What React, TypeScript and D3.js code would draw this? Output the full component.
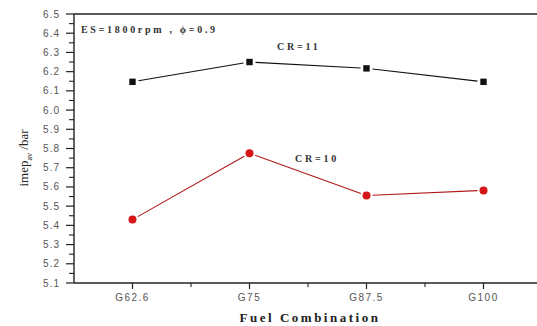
import * as d3 from "d3";

const categories = ["G62.6", "G75", "G87.5", "G100"];
const cr11 = [6.147, 6.25, 6.217, 6.147];
const cr10 = [5.43, 5.775, 5.555, 5.582];
const yTicks = [5.1, 5.2, 5.3, 5.4, 5.5, 5.6, 5.7, 5.8, 5.9, 6.0, 6.1, 6.2, 6.3, 6.4, 6.5];

const W = 537;
const H = 326;
const left = 74;
const top = 14;
const bottom = 283;

const x = d3.scalePoint<string>().domain(categories).range([left, 542]).padding(0.5);
const y = d3.scaleLinear().domain([5.1, 6.5]).range([bottom, top]);

// Origin style: segments stop short of the markers
function gapSegments(vals: number[], gap: number) {
  const segs: { x1: number; y1: number; x2: number; y2: number }[] = [];
  for (let i = 0; i < vals.length - 1; i++) {
    const ax = x(categories[i])!, ay = y(vals[i]);
    const bx = x(categories[i + 1])!, by = y(vals[i + 1]);
    const len = Math.hypot(bx - ax, by - ay);
    const ux = (bx - ax) / len, uy = (by - ay) / len;
    segs.push({ x1: ax + ux * gap, y1: ay + uy * gap, x2: bx - ux * gap, y2: by - uy * gap });
  }
  return segs;
}

export default function App() {
  const step = x.step();
  const minorY = d3.range(5.15, 6.5, 0.1);
  const tickFont = "'Liberation Sans', Arial, sans-serif";
  const serif = "'Liberation Serif', 'Times New Roman', serif";

  return (
    <svg width={W} height={H} style={{ position: "absolute", left: 0, top: 0, background: "#fff" }}>
      {/* frame */}
      <line x1={left} y1={top} x2={W} y2={top} stroke="#222" strokeWidth={1.4} />
      <line x1={left} y1={top} x2={left} y2={bottom} stroke="#222" strokeWidth={1.4} />
      <line x1={left} y1={bottom} x2={W} y2={bottom} stroke="#222" strokeWidth={1.4} />

      {/* y ticks */}
      {yTicks.map((t) => (
        <g key={t}>
          <line x1={left - 8} x2={left} y1={y(t)} y2={y(t)} stroke="#222" strokeWidth={1.2} />
          <text x={left - 14} y={y(t) + 3.5} textAnchor="end" fontSize={10} fill="#555"
            fontFamily={tickFont} letterSpacing={1}>{t.toFixed(1)}</text>
        </g>
      ))}
      {minorY.map((t) => (
        <line key={t} x1={left - 5} x2={left} y1={y(t)} y2={y(t)} stroke="#222" strokeWidth={1.1} />
      ))}

      {/* x ticks */}
      {categories.map((c) => (
        <g key={c}>
          <line x1={x(c)} x2={x(c)} y1={bottom} y2={bottom + 6} stroke="#222" strokeWidth={1.2} />
          <line x1={x(c)! + step / 2} x2={x(c)! + step / 2} y1={bottom} y2={bottom + 4} stroke="#222" strokeWidth={1.1} />
          <text x={x(c)} y={bottom + 18} textAnchor="middle" fontSize={10} fill="#555"
            fontFamily={tickFont} letterSpacing={1.5}>{c}</text>
        </g>
      ))}

      {/* CR=11 */}
      {gapSegments(cr11, 6).map((s, i) => (
        <line key={i} {...s} stroke="#111" strokeWidth={1.1} />
      ))}
      {cr11.map((v, i) => (
        <rect key={i} x={x(categories[i])! - 3.2} y={y(v) - 3.2} width={6.4} height={6.4} fill="#111" />
      ))}

      {/* CR=10 */}
      {gapSegments(cr10, 6).map((s, i) => (
        <line key={i} {...s} stroke="#b01818" strokeWidth={1.1} />
      ))}
      {cr10.map((v, i) => (
        <circle key={i} cx={x(categories[i])} cy={y(v)} r={4} fill="#d41616" />
      ))}

      {/* annotations */}
      <text x={81} y={33} fontSize={10} fontWeight="bold" fill="#333" fontFamily={serif} letterSpacing={2.7}>
        ES=1800rpm , ϕ=0.9
      </text>
      <text x={277} y={50} fontSize={10} fontWeight="bold" fill="#333" fontFamily={serif} letterSpacing={2.8}>
        CR=11
      </text>
      <text x={295} y={162} fontSize={10} fontWeight="bold" fill="#333" fontFamily={serif} letterSpacing={2.8}>
        CR=10
      </text>

      {/* axis titles */}
      <text x={310} y={322} textAnchor="middle" fontSize={13} fontWeight="bold" fill="#222"
        fontFamily={serif} letterSpacing={2.5}>Fuel Combination</text>
      <text transform={`translate(28, 158) rotate(-90)`} textAnchor="middle" fontSize={13}
        fill="#222" fontFamily={serif}>
        imep<tspan fontSize={8} dy={4}>av</tspan><tspan dy={-4}> /bar</tspan>
      </text>
    </svg>
  );
}
